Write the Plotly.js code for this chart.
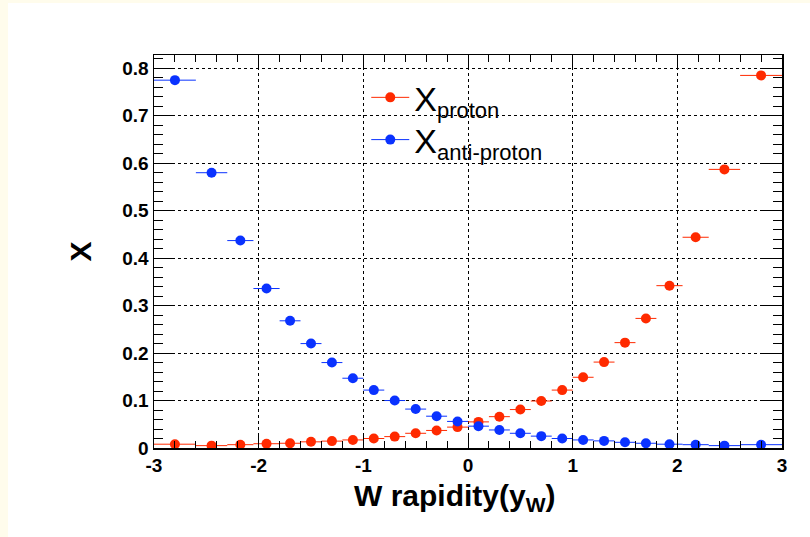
<!DOCTYPE html>
<html>
<head>
<meta charset="utf-8">
<script src="https://cdn.plot.ly/plotly-3.0.1.min.js"></script>
<style>
  html, body { margin: 0; padding: 0; background: #fffcec; width: 810px; height: 537px; overflow: hidden; }
  #chart { position: absolute; left: 8px; top: 3px; width: 802px; height: 534px; background: #ffffff; }
</style>
</head>
<body>
<div id="chart"></div>
<script>
// Bin centres of W rapidity and half-widths of the bins
const rapidity = [-2.8, -2.45, -2.175, -1.925, -1.7, -1.5, -1.3, -1.1, -0.9, -0.7, -0.5, -0.3, -0.1,
                  0.1, 0.3, 0.5, 0.7, 0.9, 1.1, 1.3, 1.5, 1.7, 1.925, 2.175, 2.45, 2.8];
const binHalfWidth = [0.2, 0.15, 0.125, 0.125, 0.1, 0.1, 0.1, 0.1, 0.1, 0.1, 0.1, 0.1, 0.1,
                      0.1, 0.1, 0.1, 0.1, 0.1, 0.1, 0.1, 0.1, 0.1, 0.125, 0.125, 0.15, 0.2];
const xProton = [0.008, 0.005, 0.007, 0.009, 0.010, 0.013, 0.0145, 0.017, 0.020, 0.024, 0.031, 0.037, 0.044,
                 0.055, 0.066, 0.081, 0.099, 0.122, 0.149, 0.181, 0.222, 0.273, 0.342, 0.444, 0.587, 0.785];
const xAntiProton = [0.775, 0.580, 0.437, 0.336, 0.268, 0.220, 0.180, 0.147, 0.122, 0.100, 0.082, 0.067, 0.056,
                     0.046, 0.038, 0.031, 0.025, 0.020, 0.017, 0.015, 0.012, 0.010, 0.008, 0.007, 0.005, 0.007];
const xTicks = [-3, -2, -1, 0, 1, 2, 3];
const xTickText = ['-3', '-2', '-1', '0', '1', '2', '3'];
const yTicks = [0, 0.1, 0.2, 0.3, 0.4, 0.5, 0.6, 0.7, 0.8];
const yTickText = ['0', '0.1', '0.2', '0.3', '0.4', '0.5', '0.6', '0.7', '0.8'];

const RED = '#ff2a00';
const BLUE = '#0a32ff';
const subStyle = 'font-size:22px';

function dataTrace(y, color) {
  return {
    x: rapidity, y: y, type: 'scatter', mode: 'markers', showlegend: false,
    marker: { color: color, size: 10 },
    error_x: { type: 'data', array: binHalfWidth, visible: true, color: color, thickness: 1, width: 0 },
    hoverinfo: 'x+y'
  };
}
function legendTrace(name, color, legendId) {
  return {
    x: [null], y: [null], type: 'scatter', mode: 'lines+markers', name: name, legend: legendId,
    line: { color: color, width: 1 }, marker: { color: color, size: 10 }
  };
}

const traces = [
  dataTrace(xProton, RED),
  dataTrace(xAntiProton, BLUE),
  legendTrace('X<sub><span style="' + subStyle + '">proton</span></sub>', RED, 'legend'),
  legendTrace('X<sub><span style="' + subStyle + '">anti-proton</span></sub>', BLUE, 'legend2')
];

const FONT = 'Liberation Sans, Arial, sans-serif';
const axisCommon = {
  showline: true, linecolor: '#000', linewidth: 1.5, mirror: 'allticks',
  ticks: 'inside', tickcolor: '#000', tickwidth: 1,
  showgrid: true, gridcolor: '#000', griddash: 'dot', gridwidth: 1,
  zeroline: false,
  tickfont: { family: FONT, size: 19, color: '#000', weight: 'bold' }
};
const legendCommon = {
  x: 0.338, xanchor: 'left', yanchor: 'top',
  bgcolor: 'rgba(0,0,0,0)', borderwidth: 0, itemwidth: 38,
  font: { family: FONT, size: 34, color: '#000' }
};

const layout = {
  width: 802, height: 534,
  paper_bgcolor: '#ffffff', plot_bgcolor: '#ffffff',
  margin: { l: 146, r: 28, t: 52, b: 89 },
  showlegend: true,
  legend: Object.assign({}, legendCommon, { y: 0.965 }),
  legend2: Object.assign({}, legendCommon, { y: 0.8575 }),
  xaxis: Object.assign({}, axisCommon, {
    range: [-3, 3], tickmode: 'array', tickvals: xTicks, ticktext: xTickText, ticklen: 13,
    minor: { dtick: 0.2, ticklen: 7, ticks: 'inside', tickcolor: '#000', showgrid: false }
  }),
  yaxis: Object.assign({}, axisCommon, {
    range: [0, 0.828], tickmode: 'array', tickvals: yTicks, ticktext: yTickText, ticklen: 19,
    minor: { dtick: 0.02, ticklen: 9, ticks: 'inside', tickcolor: '#000', showgrid: false },
    title: { text: 'X', standoff: 22,
             font: { family: FONT, size: 30, color: '#000', weight: 'bold' } }
  }),
  annotations: [{
    text: 'W rapidity(y<sub>W</sub>)', xref: 'paper', yref: 'paper',
    x: 0.479, y: -0.125, xanchor: 'center', yanchor: 'middle', showarrow: false,
    font: { family: FONT, size: 30, color: '#000', weight: 'bold' }
  }]
};

Plotly.newPlot('chart', traces, layout, { displayModeBar: false, staticPlot: true });
</script>
</body>
</html>
